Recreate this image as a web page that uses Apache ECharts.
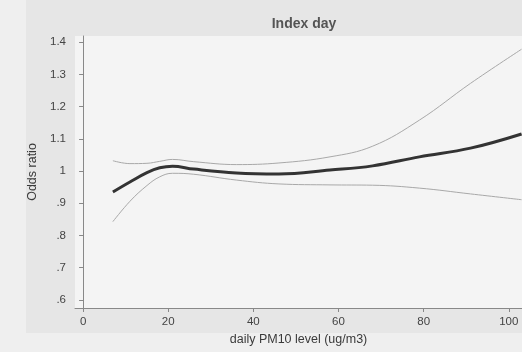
<!DOCTYPE html>
<html>
<head>
<meta charset="utf-8">
<script src="https://cdn.jsdelivr.net/npm/echarts@6/dist/echarts.min.js"></script>
<style>
  html, body { margin: 0; padding: 0; background: #efefef; }
  #chart { width: 522px; height: 352px; }
</style>
</head>
<body>
<div id="chart"></div>
<script>
// 数据：PM10 水平与比值比（读自图片）
const pm10 = [7, 11, 15, 18, 21, 26, 36, 46, 58, 68, 79, 91, 103];
const oddsRatio = [0.935, 0.966, 0.995, 1.010, 1.015, 1.006, 0.994, 0.991, 1.003, 1.016, 1.044, 1.071, 1.115];
const upperCI = [1.032, 1.023, 1.024, 1.030, 1.036, 1.029, 1.020, 1.025, 1.044, 1.077, 1.158, 1.272, 1.378];
const lowerCI = [0.843, 0.906, 0.955, 0.982, 0.993, 0.990, 0.972, 0.960, 0.957, 0.956, 0.947, 0.929, 0.911];
const xTicks = [0, 20, 40, 60, 80, 100];
const yTicks = [0.6, 0.7, 0.8, 0.9, 1.0, 1.1, 1.2, 1.3, 1.4];

function pairs(ys) {
  return pm10.map((x, i) => [x, ys[i]]);
}

// 去掉前导0，如 .9
function fmtY(v) {
  let s = v.toFixed(1);
  if (s === '1.0') return '1';
  return s.replace(/^0/, '');
}

const chart = echarts.init(document.getElementById('chart'));
const font = 'Liberation Sans, Arial, sans-serif';

const option = {
  backgroundColor: '#efefef',
  animation: false,
  graphic: [
    { type: 'rect', z: -10, shape: { x: 26, y: 0, width: 496, height: 333 }, style: { fill: '#e6e6e6' } },
    { type: 'rect', z: -9, shape: { x: 75, y: 36, width: 447, height: 272 }, style: { fill: '#f4f4f4' } }
  ],
  title: {
    text: 'Index day',
    left: 299,
    top: 12,
    textAlign: 'center',
    textStyle: { fontFamily: font, fontSize: 14, fontWeight: 'bold', color: '#555' }
  },
  grid: { left: 75, right: 0, top: 36, bottom: 44 },
  xAxis: {
    type: 'value',
    min: -1.9,
    max: 103.1,
    name: 'daily PM10 level (ug/m3)',
    nameLocation: 'middle',
    nameGap: 17,
    nameTextStyle: { fontFamily: font, fontSize: 12.5, color: '#3a3a3a' },
    splitLine: { show: false },
    axisLine: { lineStyle: { color: '#888' } },
    axisTick: { length: 4, customValues: xTicks, lineStyle: { color: '#888' } },
    axisLabel: { customValues: xTicks, margin: 8, fontFamily: font, fontSize: 11.5, color: '#444' }
  },
  yAxis: {
    type: 'value',
    min: 0.575,
    max: 1.419,
    name: 'Odds ratio',
    nameLocation: 'middle',
    nameGap: 33,
    nameTextStyle: { fontFamily: font, fontSize: 12.5, color: '#3a3a3a' },
    splitLine: { show: false },
    axisLine: { show: true, lineStyle: { color: '#888' } },
    axisTick: { show: true, length: 4, customValues: yTicks, lineStyle: { color: '#888' } },
    axisLabel: { customValues: yTicks, margin: 9, fontFamily: font, fontSize: 11.5, color: '#444', formatter: fmtY }
  },
  series: [
    {
      name: 'upper',
      type: 'line',
      data: pairs(upperCI),
      smooth: 0.4,
      showSymbol: false,
      lineStyle: { width: 1, color: '#a8a8a8' }
    },
    {
      name: 'lower',
      type: 'line',
      data: pairs(lowerCI),
      smooth: 0.4,
      showSymbol: false,
      lineStyle: { width: 1, color: '#a8a8a8' }
    },
    {
      name: 'OR',
      type: 'line',
      data: pairs(oddsRatio),
      smooth: 0.4,
      showSymbol: false,
      lineStyle: { width: 3, color: '#333' }
    }
  ]
};

chart.setOption(option);
</script>
</body>
</html>
